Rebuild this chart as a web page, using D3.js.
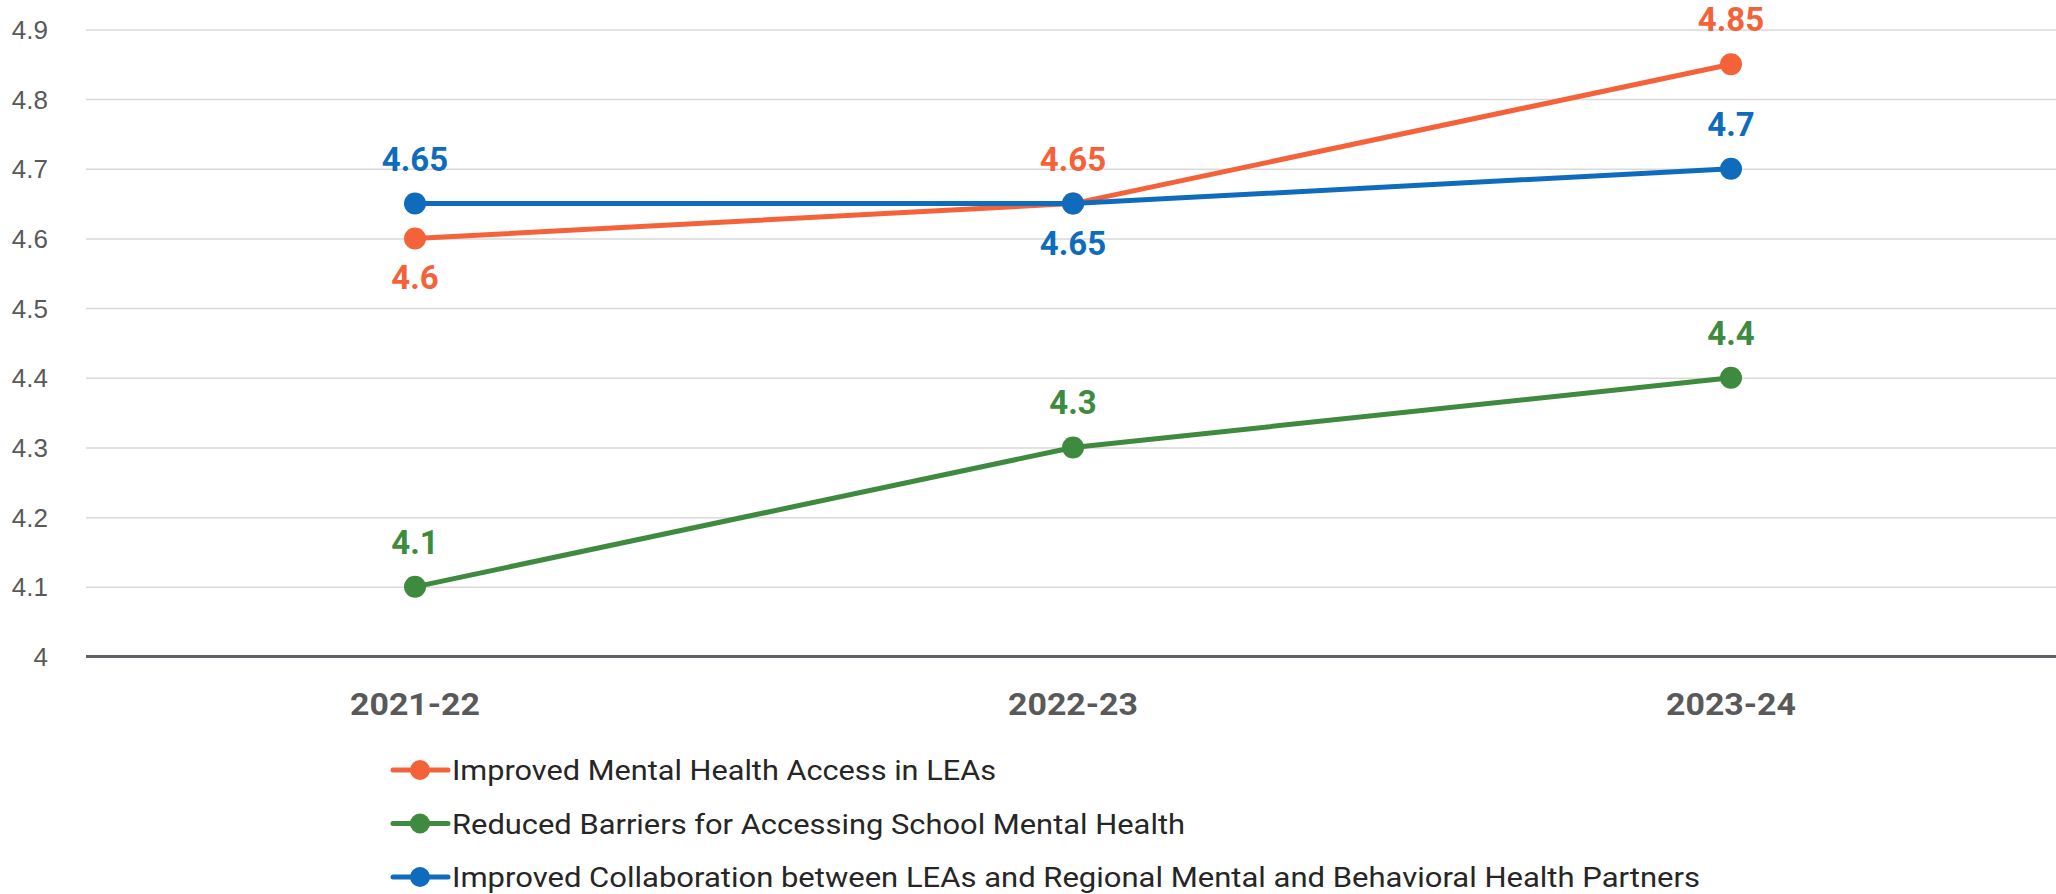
<!DOCTYPE html>
<html>
<head>
<meta charset="utf-8">
<script src="https://cdn.jsdelivr.net/npm/d3@7"></script>
<style>
  html, body { margin: 0; padding: 0; background: #fff; }
  svg { display: block; }
  .y.axis text { font-family: "Liberation Sans", Arial, sans-serif; font-size: 26px; fill: #595959; }
  .y.axis line { stroke: #d9d9d9; stroke-width: 1.5; }
  .y.axis path { display: none; }
  .x-label { font-family: Roboto, "Liberation Sans", sans-serif; font-weight: 700; font-size: 32px; fill: #595959; }
  .value-label { font-family: Roboto, "Liberation Sans", sans-serif; font-weight: 700; font-size: 33px; }
  .legend text { font-family: Roboto, "Liberation Sans", sans-serif; font-size: 28px; fill: #262626; }
</style>
</head>
<body>
<svg id="chart"></svg>
<script>
const years = ['2021-22', '2022-23', '2023-24'];
const accessValues = [4.6, 4.65, 4.85];
const barriersValues = [4.1, 4.3, 4.4];
const collaborationValues = [4.65, 4.65, 4.7];
const seriesNames = [
  'Improved Mental Health Access in LEAs',
  'Reduced Barriers for Accessing School Mental Health',
  'Improved Collaboration between LEAs and Regional Mental and Behavioral Health Partners',
];
const yTicks = [4, 4.1, 4.2, 4.3, 4.4, 4.5, 4.6, 4.7, 4.8, 4.9];

const width = 2056;
const height = 894;

const series = [
  { name: seriesNames[0], values: accessValues, color: '#f4623a', below: [true, false, false], legendWidth: 544 },
  { name: seriesNames[1], values: barriersValues, color: '#3e8a3e', below: [false, false, false], legendWidth: 733 },
  { name: seriesNames[2], values: collaborationValues, color: '#0f6cbd', below: [false, true, false], legendWidth: 1248 },
];

const svg = d3.select('#chart')
  .attr('width', width)
  .attr('height', height);

const xScale = d3.scaleBand()
  .domain(years)
  .range([86, 2060])
  .padding(0);
const xc = (d) => xScale(d) + xScale.bandwidth() / 2;

const yScale = d3.scaleLinear()
  .domain([4, 4.9])
  .range([656.5, 29.4]);

// gridlines + tick labels
const yAxis = d3.axisLeft(yScale)
  .tickValues(yTicks)
  .tickSizeInner(-(width - 86))
  .tickSizeOuter(0)
  .tickPadding(38)
  .tickFormat((d) => String(+d.toFixed(1)));

svg.append('g')
  .attr('class', 'y axis')
  .attr('transform', 'translate(86,0)')
  .call(yAxis);

svg.select('.y.axis').selectAll('.tick text').attr('dy', '0.35em');

// baseline
svg.append('line')
  .attr('x1', 86)
  .attr('x2', width)
  .attr('y1', yScale(4))
  .attr('y2', yScale(4))
  .attr('stroke', '#5f6368')
  .attr('stroke-width', 3);

// category labels
svg.selectAll('.x-label')
  .data(years)
  .enter()
  .append('text')
  .attr('class', 'x-label')
  .attr('x', xc)
  .attr('y', 715)
  .attr('text-anchor', 'middle')
  .attr('textLength', 130)
  .attr('lengthAdjust', 'spacingAndGlyphs')
  .text((d) => d);

const line = d3.line()
  .x((d, i) => xc(years[i]))
  .y((d) => yScale(d));

series.forEach((s) => {
  const g = svg.append('g');
  g.append('path')
    .datum(s.values)
    .attr('fill', 'none')
    .attr('stroke', s.color)
    .attr('stroke-width', 5)
    .attr('stroke-linejoin', 'round')
    .attr('d', line);
  g.selectAll('circle')
    .data(s.values)
    .enter()
    .append('circle')
    .attr('cx', (d, i) => xc(years[i]))
    .attr('cy', (d) => yScale(d))
    .attr('r', 11)
    .attr('fill', s.color);
});

// value labels, above or below the point
series.forEach((s) => {
  svg.append('g')
    .selectAll('text')
    .data(s.values)
    .enter()
    .append('text')
    .attr('class', 'value-label')
    .attr('fill', s.color)
    .attr('text-anchor', 'middle')
    .attr('x', (d, i) => xc(years[i]))
    .attr('y', (d, i) => yScale(d) + (s.below[i] ? 51 : -33))
    .text((d) => d);
});

// legend
const legend = svg.append('g').attr('class', 'legend');
const rows = legend.selectAll('g')
  .data(series)
  .enter()
  .append('g')
  .attr('transform', (d, i) => `translate(0,${770 + i * 53.5})`);

rows.append('line')
  .attr('x1', 393)
  .attr('x2', 448)
  .attr('stroke', (d) => d.color)
  .attr('stroke-width', 5)
  .attr('stroke-linecap', 'round');
rows.append('circle')
  .attr('cx', 420)
  .attr('r', 10)
  .attr('fill', (d) => d.color);
rows.append('text')
  .attr('x', 452)
  .attr('y', 10)
  .attr('textLength', (d) => d.legendWidth)
  .attr('lengthAdjust', 'spacingAndGlyphs')
  .text((d) => d.name);
</script>
</body>
</html>
